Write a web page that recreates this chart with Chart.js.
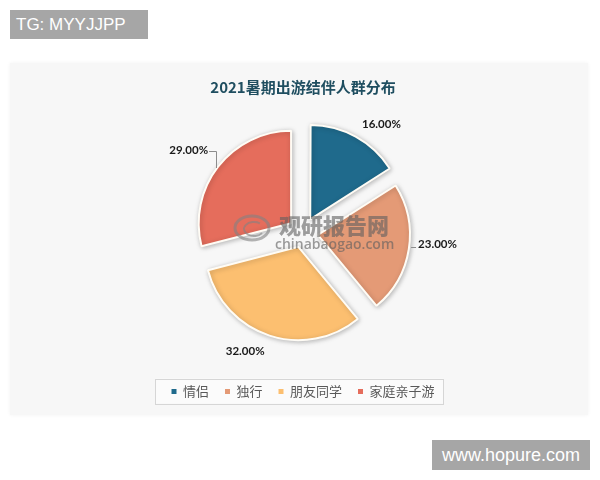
<!DOCTYPE html>
<html><head><meta charset="utf-8">
<script src="https://cdn.jsdelivr.net/npm/chart.js@4.4.0/dist/chart.umd.min.js"></script>
<style>
html,body{margin:0;padding:0;background:#fff;width:600px;height:480px;overflow:hidden;}
#panel{position:absolute;left:10px;top:63px;width:578px;height:352px;background:#f7f7f7;box-shadow:0 0 4px rgba(0,0,0,0.05);}
#wrap{position:absolute;left:0;top:0;width:600px;height:480px;}
.tag{position:absolute;background:#a6a6a6;color:#fff;font-family:"Liberation Sans",Arial,sans-serif;}
#tg{left:10px;top:10px;width:138px;height:29px;line-height:29px;font-size:17px;padding-left:6px;box-sizing:border-box;}
#hp{left:432px;top:440px;width:158px;height:30px;line-height:30px;font-size:18px;text-align:center;}
</style></head><body>
<div id="panel"></div>
<div id="wrap"><canvas id="c" width="600" height="480"></canvas></div>
<div class="tag" id="tg">TG: MYYJJPP</div>
<div class="tag" id="hp">www.hopure.com</div>
<script>
const titleText = '2021暑期出游结伴人群分布';
const categories = ['情侣', '独行', '朋友同学', '家庭亲子游'];
const shares = [16, 23, 32, 29];
const colors = ['#1f6a8c', '#e49a76', '#fcbf70', '#e56d5c'];
const valueLabels = shares.map(v => v.toFixed(2) + '%');

const labelTweak = [{da: 7, d: 134}, {da: -4, d: 135}, {da: 8, d: 132}, {da: -2, d: 141}];

const legendFrame = {
  id: 'legendFrame',
  beforeDraw(chart) {
    const hb = chart.legend.legendHitBoxes;
    if (!hb || !hb.length) return;
    const ctx = chart.ctx;
    const left = hb[0].left - 16;
    const last = hb[hb.length - 1];
    const right = last.left + last.width + 9;
    const cy = hb[0].top + hb[0].height / 2;
    ctx.save();
    ctx.fillStyle = '#fbfbfb';
    ctx.fillRect(left, cy - 13, right - left, 25);
    ctx.strokeStyle = '#d6d6d6';
    ctx.lineWidth = 1;
    ctx.strokeRect(Math.round(left) + 0.5, Math.round(cy - 13) + 0.5, Math.round(right - left), 25);
    ctx.restore();
  }
};

const shadow = {
  id: 'shadow',
  beforeDatasetsDraw(chart) {
    const ctx = chart.ctx;
    ctx.save();
    ctx.shadowColor = 'rgba(0,0,0,0.25)';
    ctx.shadowBlur = 5;
    ctx.shadowOffsetX = 1;
    ctx.shadowOffsetY = 1;
  },
  afterDatasetsDraw(chart) { chart.ctx.restore(); }
};

const watermark = {
  id: 'watermark',
  afterDatasetsDraw(chart) {
    const ctx = chart.ctx;
    ctx.save();
    ctx.strokeStyle = 'rgba(130,130,130,0.6)';
    ctx.lineWidth = 3;
    ctx.beginPath(); ctx.ellipse(252, 228, 17, 12, 0, 0, Math.PI * 2); ctx.stroke();
    ctx.lineWidth = 2;
    ctx.beginPath(); ctx.ellipse(254, 229, 10, 7, 0, Math.PI * 0.2, Math.PI * 1.7); ctx.stroke();
    ctx.fillStyle = 'rgba(95,95,95,0.6)';
    ctx.font = '900 22px "Noto Sans CJK SC"';
    ctx.textAlign = 'left'; ctx.textBaseline = 'middle';
    ctx.fillText('观研报告网', 279, 226);
    ctx.fillStyle = 'rgba(95,95,95,0.62)';
    ctx.font = '600 14px "Open Sans", sans-serif';
    ctx.fillText('chinabaogao.com', 275, 245);
    ctx.restore();
  }
};

const dataLabels = {
  id: 'dataLabels',
  afterDatasetsDraw(chart) {
    const meta = chart.getDatasetMeta(0);
    const ctx = chart.ctx;
    ctx.save();
    ctx.font = 'bold 11.5px Lato, "Open Sans", sans-serif';
    ctx.fillStyle = '#1a1a1a';
    ctx.textAlign = 'center'; ctx.textBaseline = 'middle';
    ctx.strokeStyle = '#8c8c8c'; ctx.lineWidth = 1;
    meta.data.forEach((arc, i) => {
      const mid = (arc.startAngle + arc.endAngle) / 2 + labelTweak[i].da * Math.PI / 180;
      const d = labelTweak[i].d;
      const x = arc.x + Math.cos(mid) * d;
      const y = arc.y + Math.sin(mid) * d;
      ctx.fillText(valueLabels[i], x, y);
      const w = ctx.measureText(valueLabels[i]).width;
      if (i === 3) {
        const lx = Math.round(x + w / 2 + 8) + 0.5;
        ctx.beginPath();
        ctx.moveTo(x + w / 2 + 1, Math.round(y + 1) + 0.5);
        ctx.lineTo(lx, Math.round(y + 1) + 0.5);
        ctx.lineTo(lx, Math.round(y) + 18);
        ctx.stroke();
      }
      if (i === 1) {
        ctx.beginPath();
        ctx.moveTo(x - w / 2 - 7, Math.round(y + 3) + 0.5);
        ctx.lineTo(x - w / 2 - 2, Math.round(y + 3) + 0.5);
        ctx.stroke();
      }
    });
    ctx.restore();
  }
};

new Chart(document.getElementById('c'), {
  type: 'pie',
  data: {
    labels: categories,
    datasets: [{
      data: shares,
      backgroundColor: colors,
      borderColor: '#fffcf5',
      borderWidth: 2,
      offset: 60,
      radius: 92,
      clip: false
    }]
  },
  options: {
    responsive: false,
    animation: false,
    events: [],
    layout: {padding: {left: 6, right: 0, top: 0, bottom: 72}},
    plugins: {
      title: {
        display: true,
        text: titleText,
        color: '#1f4e60',
        font: {family: '"Noto Sans CJK SC"', size: 15, weight: 'bold'},
        padding: {top: 78, bottom: 0}
      },
      legend: {
        display: true,
        position: 'bottom',
        labels: {
          boxWidth: 5, boxHeight: 5, padding: 16, color: '#595959',
          font: {family: '"Noto Sans CJK SC"', size: 13},
          generateLabels(chart) {
            const ds = chart.data.datasets[0];
            return chart.data.labels.map((l, i) => ({
              text: l, fillStyle: ds.backgroundColor[i], strokeStyle: ds.backgroundColor[i],
              lineWidth: 0, hidden: false, index: i, fontColor: '#595959'
            }));
          }
        }
      },
      tooltip: {enabled: false}
    }
  },
  plugins: [legendFrame, shadow, watermark, dataLabels]
});
</script>
</body></html>
